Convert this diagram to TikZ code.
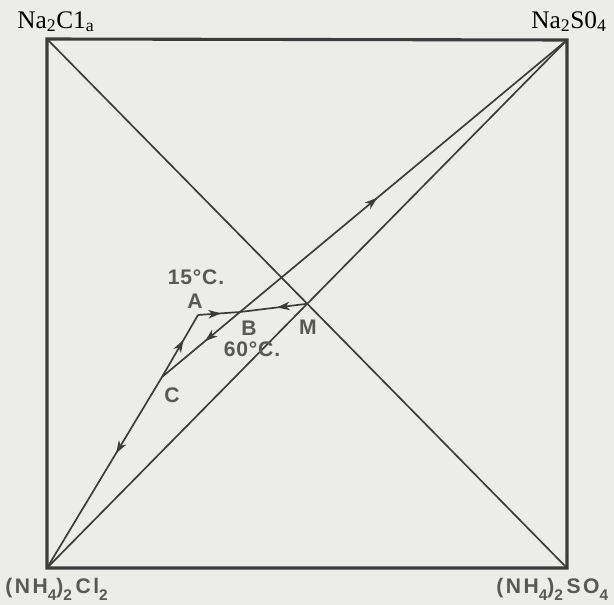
\documentclass[tikz,border=0pt]{standalone}
\usepackage{fontspec}
\usepackage{xcolor}
\definecolor{paper}{RGB}{236,236,233}
\definecolor{ink}{RGB}{60,60,60}
\definecolor{printgray}{RGB}{88,88,88}
\newfontfamily\serifface{Liberation Serif}
\newfontfamily\sansface[LetterSpace=4]{Liberation Sans}
\newfontfamily\widesans[LetterSpace=12]{Liberation Sans}
\newcommand{\lowidx}[1]{\raisebox{-0.35em}{\fontsize{11}{11}\selectfont #1}}
\usepackage{tikz}
\usetikzlibrary{
    arrows.meta,
    positioning,
    calc,
    decorations.markings
}

\begin{document}
\begin{tikzpicture}[x=0.025cm, y=-0.025cm,
        salt/.style={font={\serifface\fontsize{18}{20}\selectfont}, text=black, inner sep=0pt},
        ammon/.style={font={\widesans\bfseries\fontsize{15}{17}\selectfont}, text=printgray, inner sep=0pt},
        pt/.style={font={\sansface\bfseries\fontsize{15}{17}\selectfont}, text=printgray, inner sep=0pt},
        edge/.style={draw=ink, line width=1.2pt},
        flow/.style={edge, postaction={decorate}, decoration={markings, mark=at position #1 with {\arrow[ink]{Stealth[length=9pt, width=6pt, inset=2.5pt]}}}},
        flow/.default=0.5
    ]
        \fill[paper] (0,0) rectangle (614,605);
        \useasboundingbox (0,0) rectangle (614,605);

        % corners of the square
        \coordinate (nacl) at (47,39);
        \coordinate (naso) at (567,40);
        \coordinate (nhso) at (567,568);
        \coordinate (nhcl) at (47,568);

        \draw[edge, line width=2.2pt] (nacl) -- (naso) -- (nhso) -- (nhcl) -- cycle;
        \draw[edge] (nacl) -- (nhso);
        \draw[edge] (nhcl) -- (naso);

        % points of the path
        \coordinate (M) at (intersection of nacl--nhso and nhcl--naso);
        \coordinate (A) at (198,315);
        \coordinate (B) at (240,312);
        \coordinate (C) at (162,377);

        \draw[flow=0.45] (M) -- (B);
        \draw[flow=0.55] (A) -- (B);
        \draw[flow=0.6] (C) -- (A);
        \draw[flow=0.45] (B) -- (C);
        \draw[flow=0.42] (B) -- (naso);
        \draw[flow=0.4] (C) -- (nhcl);

        \node[salt, anchor=base west] (lnacl) at (17,28) {Na\textsubscript{2}C1\textsubscript{a}};
        \node[salt, anchor=base east] (lnaso) at (607,28) {Na\textsubscript{2}S0\textsubscript{4}};
        \node[ammon, anchor=base west] (lnhcl) at (5,593) {(NH\lowidx{4})\lowidx{2}\,Cl\lowidx{2}};
        \node[ammon, anchor=base west] (lnhso) at (496,593) {(NH\lowidx{4})\lowidx{2}\,SO\lowidx{4}};

        \node[pt] (t15) at (196,277) {15°C.};
        \node[pt] (tA) at (195,301) {A};
        \node[pt] (tB) at (249,328) {B};
        \node[pt] (t60) at (252,349) {60°C.};
        \node[pt] (tM) at (308,327) {M};
        \node[pt] (tC) at (172,395) {C};
    \end{tikzpicture}
\end{document}
